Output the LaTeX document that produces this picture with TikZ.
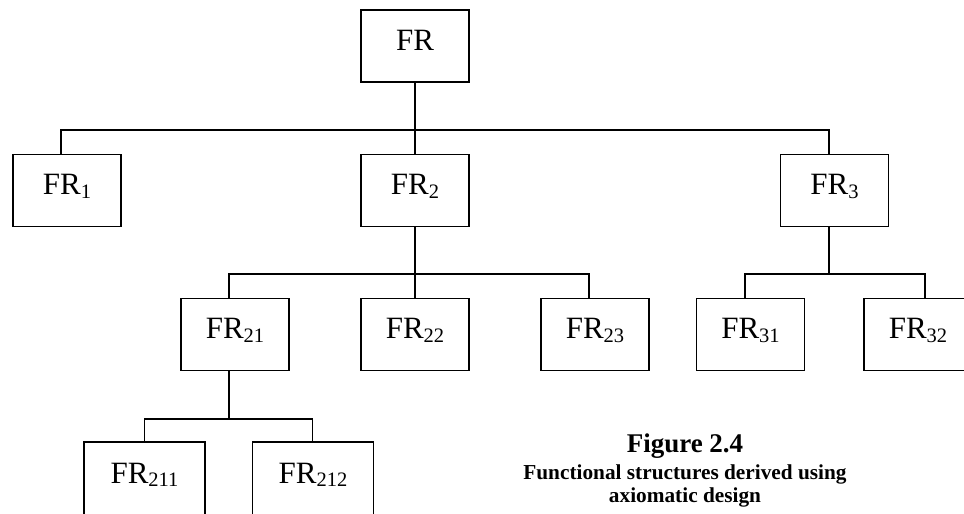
\documentclass[tikz,border=0pt]{standalone}
\usepackage{fontspec}
\setmainfont{Liberation Serif}
\newcommand\frsub[1]{\raisebox{-3.5pt}{\fontsize{20.5}{20.5}\selectfont #1}}
\begin{document}
\begin{tikzpicture}[x=1pt,y=-1pt,
  frbox/.style={draw, line width=1.5pt, minimum width=108pt, minimum height=72pt,
    inner sep=0pt, text height=20pt, text depth=12pt,
    font=\fontsize{31}{32}\selectfont},
  widebox/.style={frbox, minimum width=121pt, minimum height=74pt},
  link/.style={line width=1.5pt},
  capt/.style={anchor=base, inner sep=0pt}]
\clip (0,0) rectangle (964,514);

% function requirement boxes
\node[frbox] (FR)    at (415,46)    {FR};
\node[frbox] (FR1)   at (67,190.5)  {FR\frsub{1}};
\node[frbox] (FR2)   at (415,190.5) {FR\frsub{2}};
\node[frbox] (FR3)   at (834.5,190.5) {FR\frsub{3}};
\node[frbox] (FR21)  at (235,334.5) {FR\frsub{21}};
\node[frbox] (FR22)  at (415,334.5) {FR\frsub{22}};
\node[frbox] (FR23)  at (595,334.5) {FR\frsub{23}};
\node[frbox] (FR31)  at (750.5,334.5) {FR\frsub{31}};
\node[frbox] (FR32)  at (918,334.5) {FR\frsub{32}};
\node[widebox] (FR211) at (144.5,479) {FR\frsub{211}};
\node[widebox] (FR212) at (313,479)   {FR\frsub{212}};

% junctions on the horizontal bars
\coordinate (j1) at (415,130);
\coordinate (j2) at (415,274);
\coordinate (j3) at (829,274);
\coordinate (j4) at (229,419);

% level 1
\draw[link] (FR.south) -- (FR2.north);
\draw[link] ([xshift=-6pt]FR1.north) |- (j1) -| ([xshift=-5.5pt]FR3.north);
% level 2 under FR2
\draw[link] (FR2.south) -- (FR22.north);
\draw[link] ([xshift=-6pt]FR21.north) |- (j2) -| ([xshift=-6pt]FR23.north);
% level 2 under FR3
\draw[link] ([xshift=-5.5pt]FR3.south) -- (j3);
\draw[link] ([xshift=-5.5pt]FR31.north) |- (j3) -| ([xshift=7pt]FR32.north);
% level 3 under FR21
\draw[link] ([xshift=-6pt]FR21.south) -- (j4);
\draw[link] (FR211.north) |- (j4) -| ([xshift=-0.5pt]FR212.north);

% caption
\node[capt, font=\bfseries\fontsize{27}{28}\selectfont] (cap1) at (685,452) {Figure 2.4};
\node[capt, font=\bfseries\fontsize{21.3}{22}\selectfont] (cap2) at (685,479) {Functional structures derived using};
\node[capt, font=\bfseries\fontsize{21.3}{22}\selectfont] (cap3) at (685,502) {axiomatic design};
\end{tikzpicture}
\end{document}
